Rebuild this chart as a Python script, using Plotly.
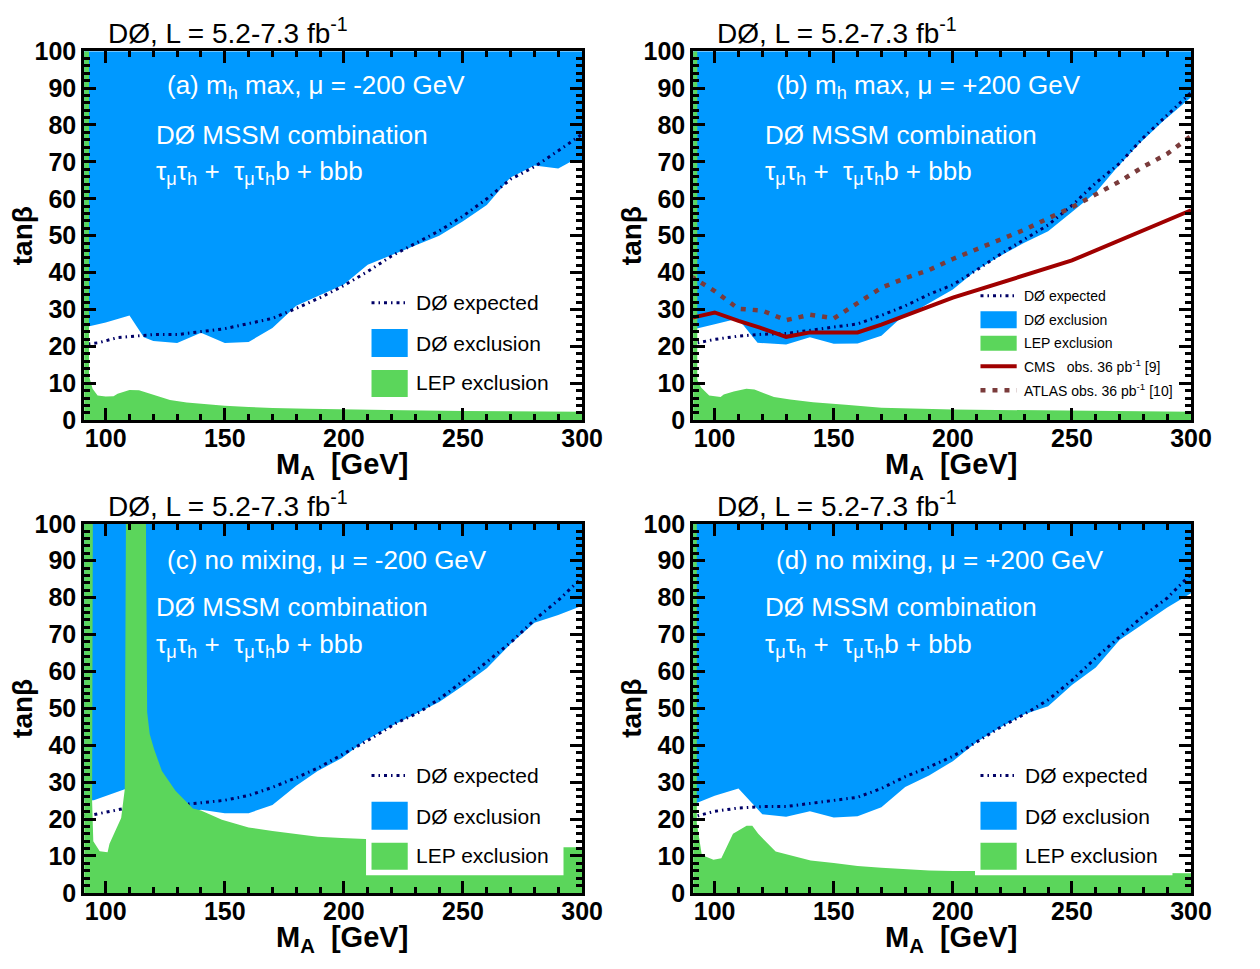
import plotly.graph_objects as go
from plotly.subplots import make_subplots

# ---- panel (a): m_h max, mu = -200 GeV ----
a_excl_ma = [90, 100, 110, 116, 120, 130, 140, 150, 160, 170, 180, 190, 200, 210, 220, 230, 240, 250, 260, 270, 280, 290, 295, 300]
a_excl_tb = [25, 26.5, 28.4, 22.5, 21.5, 20.9, 23.7, 20.9, 21.2, 25, 31, 33.8, 36.8, 42.1, 44.7, 47.4, 50, 53.9, 58.3, 65.8, 69, 68.2, 70, 70]
a_exp_ma = [90, 97, 105, 110, 120, 130, 140, 150, 160, 170, 180, 190, 200, 210, 220, 230, 240, 250, 260, 270, 280, 290, 300]
a_exp_tb = [20.5, 21, 22.4, 22.6, 23.2, 23.2, 24, 24.8, 26.2, 27.6, 30.3, 33.2, 36.5, 40.3, 44.5, 47.9, 51.3, 55.3, 60, 65.3, 68.7, 73, 77.5]
a_lep_ma = [90, 90, 93, 93, 94.5, 96.6, 100, 103.3, 105, 110, 114, 120, 127, 134, 140, 150, 160, 170, 185, 200, 225, 250, 300, 300]
a_lep_tb = [0, 100, 100, 12, 8.5, 6.7, 6.4, 6.5, 7.2, 8.2, 8.1, 6.8, 5.5, 4.8, 4.4, 3.9, 3.6, 3.3, 3.1, 2.9, 2.7, 2.5, 2.3, 0]

# ---- panel (b): m_h max, mu = +200 GeV ----
b_excl_ma = [90, 93, 100, 109, 112, 118, 130, 140, 150, 160, 170, 177, 187, 200, 210, 220, 230, 240, 250, 260, 268, 278, 288, 300]
b_excl_tb = [24.6, 24.9, 26, 27.4, 25.8, 21, 20.5, 22.5, 20.7, 20.8, 22.9, 27, 30.6, 35.4, 40.7, 44.6, 48.1, 51.2, 56.4, 61.7, 67.8, 74.8, 80.9, 87.5]
b_exp_ma = [90, 93, 100, 110, 120, 130, 140, 150, 160, 170, 180, 190, 200, 210, 220, 230, 240, 250, 260, 270, 280, 290, 300]
b_exp_tb = [20.6, 21, 21.9, 22.8, 23.3, 23.5, 24.4, 25.3, 26.1, 28.4, 31, 34.1, 36.7, 40.7, 45, 49, 52.9, 58.2, 64.3, 69.6, 76.6, 82.7, 88.8]
b_lep_ma = [90, 90, 92.7, 92.7, 94.3, 97.7, 102.5, 103.8, 108, 113.3, 116.7, 124.9, 131.7, 141.3, 155, 170, 200, 250, 300, 300]
b_lep_tb = [0, 100, 100, 11, 8.9, 6.7, 6.3, 7, 7.8, 8.5, 8.3, 6.3, 5.6, 4.9, 4.2, 3.4, 2.9, 2.5, 2.3, 0]
cms_ma = [90, 100, 110, 119, 130, 140, 160, 170, 200, 250, 300]
cms_tb = [27.7, 29.2, 26.9, 25.1, 22.6, 23.8, 23.8, 25.9, 33.2, 43.3, 56.9]
atlas_ma = [90, 100, 110, 120, 130, 140, 150, 160, 170, 180, 190, 200, 210, 220, 230, 240, 250, 260, 270, 280, 290, 300]
atlas_tb = [39, 35, 30.2, 29.7, 27.1, 28.6, 27.6, 31.9, 35.9, 38.5, 40.7, 43.7, 46.4, 49, 51.6, 54.7, 57.7, 61.2, 64.7, 68.7, 72.2, 77]

# ---- panel (c): no mixing, mu = -200 GeV ----
c_excl_ma = [90, 95, 108, 112, 120, 130, 140, 150, 160, 170, 180, 189, 199, 209, 220, 231, 240, 250, 260, 270, 280, 290, 300]
c_excl_tb = [25, 25.1, 28.1, 26, 21.5, 21, 22.5, 21.6, 21.6, 23.8, 29, 33, 36.5, 41.3, 45.2, 48.7, 51.7, 56.1, 60.9, 67.5, 73.2, 75.3, 77.8]
c_exp_ma = [90, 95, 108, 120, 137, 150, 160, 170, 180, 189, 199, 210, 222, 232, 241, 251, 261, 271, 280, 290, 300]
c_exp_tb = [21, 21.2, 22.9, 23.5, 24.2, 25.1, 26.4, 28.6, 31.2, 33.8, 37.3, 41.3, 46, 49.1, 53, 57.9, 63.1, 68.4, 74, 79.3, 85.4]
c_lep_ma = [90, 90, 94.6, 94.6, 94.3, 94.8, 97.5, 100.8, 101.6, 103.5, 106.5, 108, 108.5, 116.9, 117.4, 118.5, 120.3, 123.6, 129.3,
            136.6, 140, 148.8, 160, 170, 180, 189, 199, 209, 250, 292, 300, 300]
c_lep_tb = [0, 100, 100, 45, 25, 14, 11.3, 11, 13.3, 16, 20.3, 28, 100, 100, 49, 43, 39, 33, 27.7,
            22.9, 22.3, 19.8, 17.7, 16.8, 15.9, 15.2, 14.9, 14.6, 13.6, 12.4, 12.4, 0]

# ---- panel (d): no mixing, mu = +200 GeV ----
d_excl_ma = [90, 92.2, 100, 110, 120, 130, 140, 150, 160, 170, 180, 190, 200, 210, 220, 230, 240, 250, 260, 270, 280, 290, 300]
d_excl_tb = [24.3, 24.3, 26.3, 28.3, 21.3, 20.6, 22.1, 20.4, 20.8, 23.2, 28.7, 31.8, 35.7, 40.9, 44.9, 48.4, 50.6, 56.3, 61.1, 68.5, 72.9, 77.3, 81.2]
d_exp_ma = [90, 100, 110, 120, 130, 140, 150, 160, 170, 180, 190, 200, 210, 220, 230, 240, 250, 260, 270, 280, 290, 300]
d_exp_tb = [20.4, 22.1, 23, 23.4, 23.4, 24.3, 25.2, 25.9, 28.3, 31.5, 34.1, 37, 40.9, 44.9, 48.4, 52.3, 57.6, 63.7, 69.4, 75.1, 79.9, 86.4]
d_lep_ma = [90, 90, 92.5, 92.5, 94.6, 99.5, 102.8, 107.7, 113.4, 115.8, 118.3, 125.6, 131.3, 140.3, 150, 160, 170, 180, 190, 200,
            209, 250, 292, 300, 300]
d_lep_tb = [0, 100, 100, 19, 10.3, 9, 9.4, 16, 18.2, 18.2, 16, 11.2, 10.3, 8.8, 8.1, 7.3, 6.8, 6.4, 6.1, 5.9,
            5.9, 5.5, 5.3, 5.3, 0]

labels = ['(a) m<sub>h</sub> max, μ = -200 GeV', '(b) m<sub>h</sub> max, μ = +200 GeV',
          '(c) no mixing, μ = -200 GeV', '(d) no mixing, μ = +200 GeV']

BLUE = '#0099ff'
GREEN = '#5bd65b'
NAVY = '#000066'
RED = '#a00000'
BROWN = '#7a3b3b'
EXP_DASH = '3px,4px,1.5px,4px'
FONT = 'Liberation Sans, Arial, sans-serif'

fig = make_subplots(rows=2, cols=2)

# plot-area positions in paper units
xdom = [[0.068, 0.4698], [0.5595, 0.9613], [0.068, 0.4698], [0.5595, 0.9613]]
ydom = [[0.5683, 0.9605], [0.5683, 0.9605], [0.0660, 0.4582], [0.0660, 0.4582]]

panels = [
    (a_excl_ma, a_excl_tb, a_exp_ma, a_exp_tb, a_lep_ma, a_lep_tb),
    (b_excl_ma, b_excl_tb, b_exp_ma, b_exp_tb, b_lep_ma, b_lep_tb),
    (c_excl_ma, c_excl_tb, c_exp_ma, c_exp_tb, c_lep_ma, c_lep_tb),
    (d_excl_ma, d_excl_tb, d_exp_ma, d_exp_tb, d_lep_ma, d_lep_tb),
]

for i, (ex_x, ex_y, ep_x, ep_y, lp_x, lp_y) in enumerate(panels):
    r, c = i // 2 + 1, i % 2 + 1
    # D0 exclusion: everything above the observed limit
    fig.add_trace(go.Scatter(x=ex_x + [300, 90], y=ex_y + [100, 100], fill='toself',
                             fillcolor=BLUE, line=dict(width=0), mode='lines',
                             hoverinfo='skip', showlegend=False), row=r, col=c)
    fig.add_trace(go.Scatter(x=ep_x, y=ep_y, mode='lines',
                             line=dict(color=NAVY, width=3, dash=EXP_DASH),
                             showlegend=False), row=r, col=c)
    fig.add_trace(go.Scatter(x=lp_x, y=lp_y, fill='toself', fillcolor=GREEN,
                             line=dict(width=0), mode='lines', hoverinfo='skip',
                             showlegend=False), row=r, col=c)
    if i == 1:
        fig.add_trace(go.Scatter(x=cms_ma, y=cms_tb, mode='lines',
                                 line=dict(color=RED, width=4), showlegend=False), row=r, col=c)
        fig.add_trace(go.Scatter(x=atlas_ma, y=atlas_tb, mode='lines',
                                 line=dict(color=BROWN, width=4.5, dash='5px,7px'),
                                 showlegend=False), row=r, col=c)

axis_common = dict(showline=True, linewidth=3, linecolor='black', mirror='ticks',
                   ticks='inside', ticklen=12, tickwidth=2.5, tickcolor='black',
                   showgrid=False, zeroline=False,
                   tickfont=dict(family=FONT, size=25, color='black', weight='bold'))

shapes = []
annotations = []
for i in range(4):
    n = '' if i == 0 else str(i + 1)
    fig.layout['xaxis' + n].update(domain=xdom[i], range=[91, 300], dtick=50, tick0=0, ticklabelstandoff=-6,
                                   minor=dict(dtick=10, ticklen=6, tickwidth=2.5, ticks='inside', tickcolor='black'),
                                   **axis_common)
    fig.layout['yaxis' + n].update(domain=ydom[i], range=[0, 100], dtick=10, tick0=0,
                                   minor=dict(dtick=2, ticklen=6, tickwidth=2.5, ticks='inside', tickcolor='black'),
                                   **axis_common)
    xr, yr = 'x' + n, 'y' + n

    # header above the frame
    annotations.append(dict(x=100, y=1.0, xref=xr, yref=yr + ' domain', xanchor='left', yanchor='bottom',
                            text='DØ, L = 5.2-7.3 fb<sup>-1</sup>', showarrow=False,
                            font=dict(family=FONT, size=28, color='black')))
    # white labels in the excluded region
    annotations.append(dict(x=125, y=90.3, xref=xr, yref=yr, xanchor='left', yanchor='middle',
                            text=labels[i], showarrow=False, font=dict(family=FONT, size=26, color='white')))
    annotations.append(dict(x=120.3, y=77.4, xref=xr, yref=yr, xanchor='left', yanchor='middle',
                            text='DØ MSSM combination', showarrow=False,
                            font=dict(family=FONT, size=26, color='white')))
    annotations.append(dict(x=120.3, y=67.0, xref=xr, yref=yr, xanchor='left', yanchor='middle',
                            text='τ<sub>μ</sub>τ<sub>h</sub> +\u00a0\u00a0τ<sub>μ</sub>τ<sub>h</sub>b + bbb',
                            showarrow=False, font=dict(family=FONT, size=26, color='white')))
    # axis titles
    annotations.append(dict(x=-0.124, y=0.5, xref=xr + ' domain', yref=yr + ' domain', textangle=-90,
                            xanchor='center', yanchor='middle', text='tanβ', showarrow=False,
                            font=dict(family=FONT, size=28, color='black', weight='bold')))
    annotations.append(dict(x=0.517, y=-0.124, xref=xr + ' domain', yref=yr + ' domain', xanchor='center',
                            yanchor='middle', text='M<sub>A</sub>\u00a0\u00a0[GeV]', showarrow=False,
                            font=dict(family=FONT, size=29, color='black', weight='bold')))

    # legend
    if i == 1:
        fs = 14
        shapes.append(dict(type='line', xref=xr, yref=yr, x0=211.6, x1=226.8, y0=33.7, y1=33.7,
                           line=dict(color=NAVY, width=3, dash=EXP_DASH), layer='above'))
        shapes.append(dict(type='rect', xref=xr, yref=yr, x0=211.6, x1=226.8, y0=24.9, y1=29.5,
                           fillcolor=BLUE, line=dict(width=0), layer='above'))
        shapes.append(dict(type='rect', xref=xr, yref=yr, x0=211.6, x1=226.8, y0=18.8, y1=22.9,
                           fillcolor=GREEN, line=dict(width=0), layer='above'))
        shapes.append(dict(type='line', xref=xr, yref=yr, x0=211.6, x1=226.8, y0=14.6, y1=14.6,
                           line=dict(color=RED, width=4), layer='above'))
        shapes.append(dict(type='line', xref=xr, yref=yr, x0=211.6, x1=226.8, y0=8.1, y1=8.1,
                           line=dict(color=BROWN, width=4.5, dash='5px,7px'), layer='above'))
        rows = [('DØ expected', 33.7), ('DØ exclusion', 27.2), ('LEP exclusion', 20.8),
                ('CMS\u00a0\u00a0\u00a0obs. 36 pb<sup>-1</sup> [9]', 14.6),
                ('ATLAS obs. 36 pb<sup>-1</sup> [10]', 8.1)]
        tx = 229.2
    else:
        fs = 21
        shapes.append(dict(type='rect', xref=xr, yref=yr, x0=209.3, x1=292.2, y0=4.8, y1=36,
                           fillcolor='white', line=dict(width=0), layer='above'))
        shapes.append(dict(type='line', xref=xr, yref=yr, x0=211.6, x1=226.8, y0=31.8, y1=31.8,
                           line=dict(color=NAVY, width=3, dash=EXP_DASH), layer='above'))
        shapes.append(dict(type='rect', xref=xr, yref=yr, x0=211.6, x1=226.8, y0=17.1, y1=24.7,
                           fillcolor=BLUE, line=dict(width=0), layer='above'))
        shapes.append(dict(type='rect', xref=xr, yref=yr, x0=211.6, x1=226.8, y0=6.3, y1=13.6,
                           fillcolor=GREEN, line=dict(width=0), layer='above'))
        rows = [('DØ expected', 31.8), ('DØ exclusion', 20.7), ('LEP exclusion', 10.1)]
        tx = 229.6
    for txt, yy in rows:
        annotations.append(dict(x=tx, y=yy, xref=xr, yref=yr, xanchor='left', yanchor='middle',
                                text=txt, showarrow=False, font=dict(family=FONT, size=fs, color='black')))

fig.update_layout(width=1260, height=969, margin=dict(l=0, r=0, t=0, b=0),
                  paper_bgcolor='white', plot_bgcolor='white', showlegend=False,
                  shapes=shapes, annotations=annotations)

# pin the figure to the page corner so the window shows it at its own size
pin = ("document.body.style.margin='0px';document.body.style.overflow='hidden';"
       "var gd=document.getElementById('{plot_id}');gd.style.position='absolute';"
       "gd.style.left='0px';gd.style.top='0px';")
fig.write_html("out.html", post_script=pin, config={'displayModeBar': False})
